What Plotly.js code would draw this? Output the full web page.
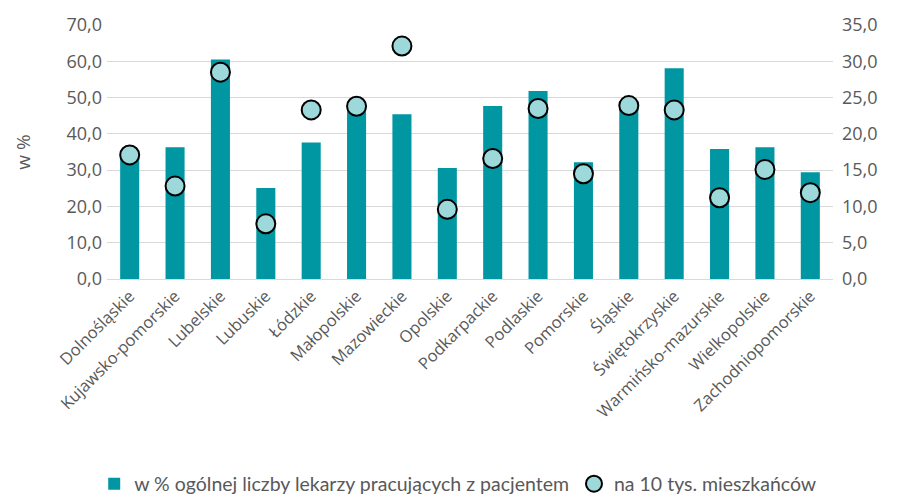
<!DOCTYPE html>
<html>
<head>
<meta charset="utf-8">
<script src="https://cdn.plot.ly/plotly-3.0.1.min.js"></script>
<style>html,body{margin:0;padding:0;background:#fff;}#chart{width:901px;height:498px;}</style>
</head>
<body>
<div id="chart"></div>
<script>
const regions = ["Dolnośląskie","Kujawsko-pomorskie","Lubelskie","Lubuskie","Łódzkie","Małopolskie","Mazowieckie","Opolskie","Podkarpackie","Podlaskie","Pomorskie","Śląskie","Świętokrzyskie","Warmińsko-mazurskie","Wielkopolskie","Zachodniopomorskie"];
const pctDoctors = [34.6,36.3,60.5,25.1,37.6,48.5,45.4,30.6,47.7,51.8,32.2,48.9,58.1,35.8,36.3,29.4];
const per10k = [17.1,12.8,28.5,7.6,23.3,23.8,32.1,9.6,16.6,23.5,14.5,23.9,23.3,11.2,15.1,11.9];
const seriesNames = ["w % ogólnej liczby lekarzy pracujących z pacjentem","na 10 tys. mieszkańców"];

const tickFont = "'Open Sans', 'DejaVu Sans', sans-serif";
const legFont = "Lato, 'Liberation Sans', sans-serif";
const traces = [
  {type:"bar", x:regions, y:pctDoctors, name:seriesNames[0], marker:{color:"#0097A3"}, yaxis:"y"},
  {type:"scatter", mode:"markers", x:regions, y:per10k, name:seriesNames[1], yaxis:"y2",
   marker:{symbol:"circle", size:19, color:"#9DD8DA", line:{color:"#000", width:2}}}
];
const layout = {
  width:901, height:498,
  margin:{l:107, r:68, t:25, b:219},
  paper_bgcolor:"#fff", plot_bgcolor:"#fff",
  separators:",.",
  font:{family:tickFont, size:17, color:"#595959"},
  bargap:0.58,
  showlegend:true,
  legend:{orientation:"h", xref:"container", yref:"container", x:0.508, xanchor:"center", y:0.028, yanchor:"middle",
    font:{family:legFont, size:19.5, color:"#595959"}, itemwidth:30, traceorder:"normal"},
  xaxis:{type:"category", range:[-0.5, regions.length-0.5], autorange:false, tickangle:-45, automargin:false, showgrid:false, showline:true, linecolor:"#d9d9d9", linewidth:1, ticks:"", tickfont:{size:16.5}},
  yaxis:{range:[0,70], dtick:10, tickformat:".1f", automargin:false, showgrid:true, gridcolor:"#d9d9d9", gridwidth:1, zeroline:false, ticks:"",
    tickfont:{size:18}, ticklabelstandoff:4,
    title:{text:"w %", font:{size:19, color:"#595959"}, standoff:30}},
  yaxis2:{range:[0,35], dtick:5, tickformat:".1f", automargin:false, overlaying:"y", side:"right", showgrid:false, zeroline:false, ticks:"", tickfont:{size:18}, ticklabelstandoff:8}
};
Plotly.newPlot("chart", traces, layout, {displayModeBar:false, staticPlot:true});
</script>
</body>
</html>
